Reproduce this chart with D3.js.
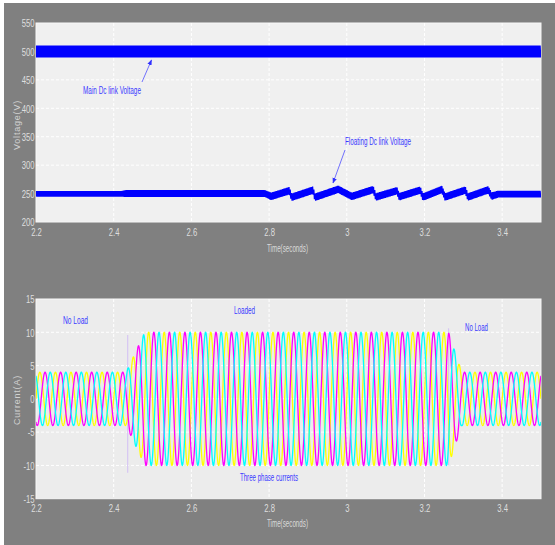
<!DOCTYPE html>
<html>
<head>
<meta charset="utf-8">
<script src="https://cdn.jsdelivr.net/npm/d3@7"></script>
<style>
  html, body { margin: 0; padding: 0; background: #ffffff; }
  svg { display: block; }
</style>
</head>
<body>
<svg id="chart" width="555" height="545"></svg>
<script>
// ---- time axis ----
const timeDomain = [2.2, 3.5];
const xTicks = [2.2, 2.4, 2.6, 2.8, 3.0, 3.2, 3.4];
const xTickLabels = ["2.2", "2.4", "2.6", "2.8", "3", "3.2", "3.4"];

// ---- voltage panel ----
const voltDomain = [200, 550];
const voltTicks = [200, 250, 300, 350, 400, 450, 500, 550];
const voltTickLabels = ["200", "250", "300", "350", "400", "450", "500", "550"];

// main DC link: envelope (centre and half band width of ripple)
const mainTimes = [2.2, 3.5];
const mainCentre = [500, 500];
const mainHalfBand = [10.5, 10.5];

// floating DC link: centre of the rippled band over time
const floatTimes = [2.2, 2.42, 2.43, 2.79, 2.805, 2.852, 2.858, 2.913, 2.918, 2.978, 3.013,
                    3.068, 3.075, 3.129, 3.135, 3.189, 3.196, 3.245, 3.253, 3.305, 3.312,
                    3.364, 3.373, 3.39, 3.5];
const floatCentre = [249.5, 249.5, 250, 250, 245, 255, 243.5, 256, 243.5, 257.5, 245,
                     257, 244, 255, 244.5, 256, 244, 257, 244, 256, 244,
                     256.5, 245.5, 249, 249];
const floatHalfBand = [4.8, 4.8, 6, 6, 6.5, 6.5, 6.5, 6.5, 6.5, 6.5, 6.5,
                       6.5, 6.5, 6.5, 6.5, 6.5, 6.5, 6.5, 6.5, 6.5, 6.5,
                       6.5, 6.5, 6, 6];

// ---- current panel ----
const currDomain = [-15, 15];
const currTicks = [-15, -10, -5, 0, 5, 10, 15];
const currTickLabels = ["-15", "-10", "-5", "0", "5", "10", "15"];

// peak phase current over time (no load -> loaded -> no load)
const ampTimes = [2.2, 2.432, 2.48, 3.262, 3.296, 3.5];
const ampValues = [4, 4, 10, 10, 4, 4];
const supplyHz = 25;
const phaseNames = ["a", "b", "c"];
const phaseShiftDeg = [0, -120, 120];
const phaseColors = ["#ffff00", "#ff00ff", "#00ffff"];

// switching transients marked in the record
const transientTimes = [2.436, 3.262];
const transientLow = [-11.1, -10];
const transientHigh = [9.6, 10.6];

// ---------------------------------------------------------------
const svg = d3.select("#chart");
const W = 555, H = 545;

svg.append("rect").attr("x", 4).attr("y", 3).attr("width", W - 4).attr("height", H - 3)
  .attr("fill", "#808080");

const x = d3.scaleLinear().domain(timeDomain).range([36, 541]);
const yV = d3.scaleLinear().domain(voltDomain).range([222, 23]);
const yI = d3.scaleLinear().domain(currDomain).range([498.7, 299]);

const tickColor = "#dedede";
const condensed = "scale(0.7,1)";

function panel(y, yTicks, yLabels, bg, yTitle, titleY, timeLabelY, xLabelY) {
  const g = svg.append("g");
  const [x0, x1] = x.range();
  const [yb, yt] = y.range();
  g.append("rect").attr("x", x0).attr("y", yt).attr("width", x1 - x0).attr("height", yb - yt)
    .attr("fill", bg).attr("stroke", "#f7f7f7").attr("stroke-width", 1);

  // grid
  g.append("g").selectAll("line").data(xTicks.slice(1)).join("line")
    .attr("x1", d => x(d)).attr("x2", d => x(d)).attr("y1", yt).attr("y2", yb)
    .attr("stroke", "#ffffff").attr("stroke-width", 1).attr("stroke-dasharray", "3,2");
  g.append("g").selectAll("line").data(yTicks.slice(1, -1)).join("line")
    .attr("x1", x0).attr("x2", x1).attr("y1", d => y(d)).attr("y2", d => y(d))
    .attr("stroke", "#ffffff").attr("stroke-width", 1).attr("stroke-dasharray", "3,2");

  // axes
  const ax = g.append("g").attr("transform", `translate(0,${yb})`)
    .call(d3.axisBottom(x).tickValues(xTicks).tickSize(0).tickPadding(0)
      .tickFormat((d, i) => xTickLabels[i]));
  ax.select(".domain").remove();
  ax.selectAll("text").attr("fill", tickColor).attr("font-size", 11)
    .attr("font-family", "Liberation Sans, Arial, sans-serif")
    .attr("dy", null).attr("y", xLabelY - yb).attr("transform", condensed);

  const ay = g.append("g").attr("transform", `translate(${x0},0)`)
    .call(d3.axisLeft(y).tickValues(yTicks).tickSize(0).tickPadding(0)
      .tickFormat((d, i) => yLabels[i]));
  ay.select(".domain").remove();
  ay.selectAll("text").attr("fill", tickColor).attr("font-size", 11)
    .attr("font-family", "Liberation Sans, Arial, sans-serif")
    .attr("x", -2).attr("dy", "0.35em").attr("transform", condensed);

  g.append("text").attr("transform", `translate(17,${titleY}) rotate(-90)`)
    .attr("text-anchor", "middle").attr("dy", "0.35em")
    .attr("fill", "#d2d2d2").attr("font-size", 9).attr("letter-spacing", 0.8)
    .attr("font-family", "Liberation Sans, Arial, sans-serif").text(yTitle);

  g.append("text").attr("x", 287.5).attr("y", timeLabelY).attr("text-anchor", "middle")
    .attr("fill", "#dadada").attr("font-size", 11)
    .attr("font-family", "Liberation Sans, Arial, sans-serif")
    .attr("textLength", 41).attr("lengthAdjust", "spacingAndGlyphs")
    .text("Time(seconds)");
  return g;
}

const gV = panel(yV, voltTicks, voltTickLabels, "#f0f0f0", "Voltage(V)", 125, 252, 236);
const gI = panel(yI, currTicks, currTickLabels, "#ececec", "Current(A)", 400, 527, 512);

// ---- voltage traces: ripple band drawn as a fine zig-zag between the envelope edges ----
function rippleBand(times, centre, half, step) {
  const c = d3.scaleLinear().domain(times).range(centre);
  const h = d3.scaleLinear().domain(times).range(half);
  const pts = [];
  let k = 0;
  for (let t = timeDomain[0]; t <= timeDomain[1] + 1e-9; t += step, k++) {
    pts.push([t, c(t) + (k % 2 ? h(t) : -h(t))]);
  }
  return pts;
}
const lineV = d3.line().x(d => x(d[0])).y(d => yV(d[1]));
const clipV = svg.append("clipPath").attr("id", "clipV").append("rect")
  .attr("x", 36).attr("y", 23).attr("width", 505).attr("height", 199);

gV.append("path").datum(rippleBand(mainTimes, mainCentre, mainHalfBand, 0.0016))
  .attr("d", lineV).attr("fill", "none").attr("stroke", "#0000ff").attr("stroke-width", 1.3)
  .attr("clip-path", "url(#clipV)");
gV.append("path").datum(rippleBand(floatTimes, floatCentre, floatHalfBand, 0.0016))
  .attr("d", lineV).attr("fill", "none").attr("stroke", "#0000ff").attr("stroke-width", 1.3)
  .attr("clip-path", "url(#clipV)");

// annotations
const noteColor = "#3a3aff";
function note(g, txt, xs, ys, len) {
  g.append("text").attr("x", xs).attr("y", ys).attr("fill", noteColor).attr("font-size", 10)
    .attr("font-family", "Liberation Sans, Arial, sans-serif")
    .attr("textLength", len).attr("lengthAdjust", "spacingAndGlyphs").text(txt);
}
svg.append("defs").append("marker").attr("id", "arrow").attr("viewBox", "0 0 10 10")
  .attr("refX", 9).attr("refY", 5).attr("markerWidth", 7).attr("markerHeight", 7)
  .attr("orient", "auto-start-reverse")
  .append("path").attr("d", "M0,1 L10,5 L0,9 z").attr("fill", "#3030ff");

note(gV, "Main Dc link Voltage", 83, 94, 58);
gV.append("line").attr("x1", 142).attr("y1", 82).attr("x2", 151.5).attr("y2", 60)
  .attr("stroke", "#5050ff").attr("stroke-width", 0.8).attr("marker-end", "url(#arrow)");
note(gV, "Floating Dc link Voltage", 345, 145, 66);
gV.append("line").attr("x1", 345).attr("y1", 150).attr("x2", 333).attr("y2", 183)
  .attr("stroke", "#5050ff").attr("stroke-width", 0.8).attr("marker-end", "url(#arrow)");

// ---- phase currents ----
const amp = d3.scaleLinear().domain(ampTimes).range(ampValues);
const lineI = d3.line().x(d => x(d[0])).y(d => yI(d[1]));
svg.append("clipPath").attr("id", "clipI").append("rect")
  .attr("x", 36).attr("y", 299).attr("width", 505).attr("height", 199.7);

transientTimes.forEach((t, i) => {
  gI.append("line").attr("x1", x(t)).attr("x2", x(t))
    .attr("y1", yI(transientHigh[i])).attr("y2", yI(transientLow[i]))
    .attr("stroke", "#d6c6f2").attr("stroke-width", 1.2);
});

phaseNames.forEach((p, i) => {
  const pts = [];
  const ph = phaseShiftDeg[i] * Math.PI / 180;
  for (let t = timeDomain[0]; t <= timeDomain[1] + 1e-9; t += 0.0004) {
    pts.push([t, amp(t) * Math.sin(2 * Math.PI * supplyHz * t + ph)]);
  }
  gI.append("path").datum(pts).attr("d", lineI).attr("fill", "none")
    .attr("stroke", phaseColors[i]).attr("stroke-width", 1.3)
    .attr("clip-path", "url(#clipI)");
});

note(gI, "No  Load", 63, 324, 25);
note(gI, "Loaded", 234, 314, 21);
note(gI, "No Load", 465, 331, 23);
note(gI, "Three phase currents", 240, 481, 58);
</script>
</body>
</html>
